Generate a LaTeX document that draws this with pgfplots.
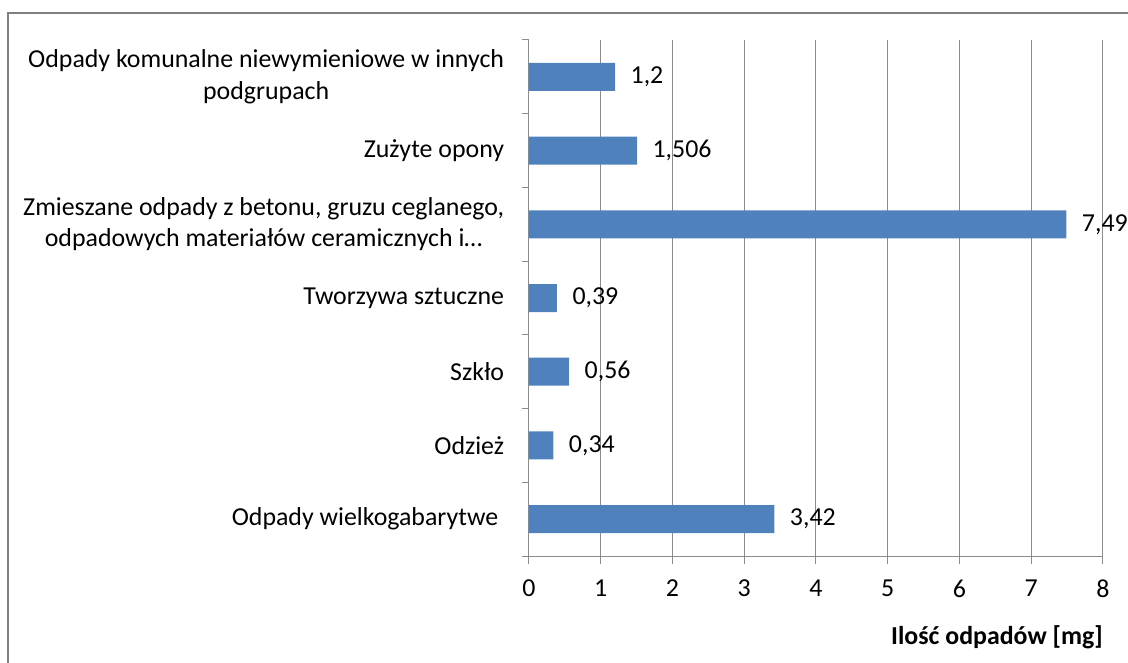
\documentclass[border=0pt]{standalone}
\usepackage{pgfplots}
\pgfplotsset{compat=1.18}
\usepackage{fontspec}
\setmainfont{Carlito}
\definecolor{barblue}{HTML}{4F81BD}
\definecolor{gridgray}{HTML}{8C8C8C}
\definecolor{framegray}{HTML}{808080}
\newcommand\chfont{\fontsize{19.4}{23.5}\selectfont}
\begin{document}
\chfont
\begin{tikzpicture}
\useasboundingbox (0,0) rectangle (846pt,-497.25pt);
\draw[framegray, line width=1.5pt] (6pt,-500pt) -- (6pt,-9.75pt) -- (850pt,-9.75pt);
\begin{axis}[
  at={(396.75pt,-30pt)}, anchor=north west,
  scale only axis, width=430.5pt, height=387pt,
  xbar, bar width=21pt,
  xmin=0, xmax=8, ymin=-0.5, ymax=6.5,
  xtick={0,...,8},
  ytick={0,...,6},
  yticklabels={Odpady wielkogabarytwe\ ,Odzież,Szkło,Tworzywa sztuczne,{Zmieszane odpady z betonu, gruzu ceglanego,\\odpadowych materiałów ceramicznych i\ldots},Zużyte opony,{Odpady komunalne niewymieniowe w innych\\podgrupach}},
  minor ytick={-0.5,0.5,...,6.5},
  axis x line*=bottom, axis y line*=left,
  axis line style={gridgray, line width=0.75pt},
  tick align=outside,
  major tick length=6pt,
  minor tick length=5.25pt,
  major y tick style={draw=none},
  minor y tick style={gridgray, line width=0.75pt},
  major x tick style={gridgray, line width=0.75pt},
  xmajorgrids,
  major grid style={gridgray, line width=0.75pt},
  /pgf/number format/assume math mode=true,
  tick label style={font=\chfont},
  yticklabel style={align=center, xshift=-6pt},
  xticklabel style={yshift=-5pt},
  xlabel={\textbf{Ilość odpadów [mg]}},
  xlabel style={at={(rel axis cs:1,0)}, anchor=east, yshift=-60.75pt, inner sep=0pt, font=\chfont},
  nodes near coords,
  point meta=explicit symbolic,
  nodes near coords style={anchor=west, xshift=5pt, font=\chfont, text=black},
  clip=false,
]
\addplot[fill=barblue, draw=none] table[x=x, y=y, meta=lab] {
x y lab
3.42 0 3,42
0.34 1 0,34
0.56 2 0,56
0.39 3 0,39
7.49 4 7,49
1.506 5 1,506
1.2 6 1,2
};
\end{axis}
\end{tikzpicture}
\end{document}
